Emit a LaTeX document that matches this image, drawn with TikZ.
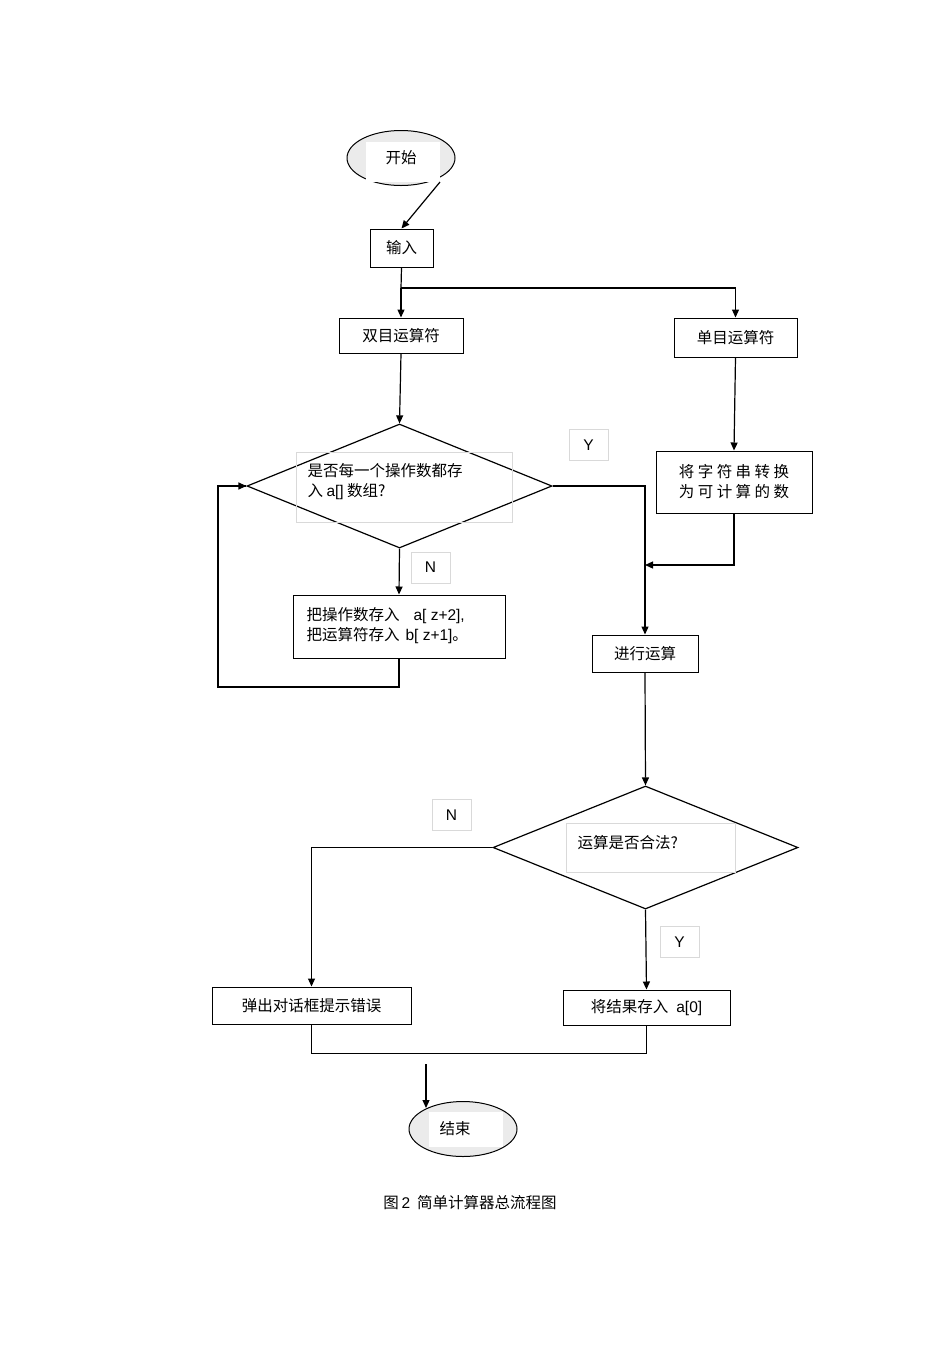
\documentclass[tikz,border=0pt]{standalone}
\usepackage{fontspec}
\setmainfont{Liberation Sans}
\newfontfamily\cjk{Noto Sans CJK SC}
\usetikzlibrary{shapes.geometric,arrows.meta}
\begin{document}
\begin{tikzpicture}[x=1pt,y=-1pt,
  every node/.style={font=\cjk\fontsize{15.5}{20}\selectfont},
  box/.style={draw,line width=1pt,rectangle,inner sep=0pt},
  lab/.style={draw=black!15,rectangle,inner sep=0pt,minimum width=39pt,minimum height=31pt,font=\fontsize{15.5}{18}\selectfont},
  line/.style={line width=1.2pt},
  arr/.style={line width=1.2pt,-{Triangle[length=8pt,width=7pt]}},
  term/.style={draw,ellipse,line width=1pt,fill=black!8,minimum width=108pt,minimum height=55pt,inner sep=0pt}]
\useasboundingbox (0,0) rectangle (950,1345);
% start
\node[term] (start) at (401,158) {};
\fill[white] (366,142) rectangle (440,182);
\node at (401,158) {开始};
\coordinate (s1) at (440,182);
\node[box,minimum width=63pt,minimum height=38pt] (in) at (401.5,248) {输入};
\draw[arr] (s1) -- (in.north);
\node[box,minimum width=124pt,minimum height=35pt] (sh) at (401,335.5) {双目运算符};
\node[box,minimum width=123pt,minimum height=39pt] (dan) at (735.5,337.5) {单目运算符};
\coordinate (br) at (401,288);
\draw[line] (in.south) -- (br);
\draw[arr] (br) -- (sh.north);
\draw[arr] (br) -| (dan.north);
\node[box,minimum width=156pt,minimum height=62pt,align=center] (conv) at (734,482) {将 字 符 串 转 换\\为 可 计 算 的 数};
\draw[arr] (dan.south) -- (conv.north);
% diamond 1
\node[draw,diamond,line width=1.2pt,minimum width=305pt,minimum height=124pt,aspect=2.46,inner sep=0pt] (d1) at (399.5,486) {};
\draw[black!15] (296,452) rectangle (512,522);
\node[anchor=west,align=left] (d1t) at (304,482) {是否每一个操作数都存\\入 {\rmfamily a[]} 数组?};
\draw[arr] (sh.south) -- (d1.north);
\node[lab] (y1) at (588.5,445) {Y};
\node[lab] (n1) at (430.5,567.5) {N};
\node[box,minimum width=212pt,minimum height=63pt] (save) at (399,626.5) {};
\node[anchor=west,align=left] at (303,626) {把操作数存入\hspace{14pt}{\rmfamily a[ z+2],}\\把运算符存入\hspace{6pt}{\rmfamily b[ z+1]}。};
\draw[arr] (d1.south) -- (save.north);
\coordinate (l1) at (218,687);
\draw[line] (save.south) |- (l1) |- (d1.west);
\draw[arr] (230,486) -- (d1.west);
\node[box,minimum width=106pt,minimum height=37pt] (calc) at (645,653.5) {进行运算};
\draw[arr] (d1.east) -| (calc.north);
\coordinate (m) at (645,565);
\draw[arr] (conv.south) |- (m);
% diamond 2
\node[draw,diamond,line width=1.2pt,minimum width=305pt,minimum height=123pt,aspect=2.48,inner sep=0pt] (d2) at (645.5,847.5) {};
\draw[black!15] (566,823) rectangle (735,872);
\node[anchor=west] at (574,843) {运算是否合法?};
\draw[arr] (calc.south) -- (d2.north);
\node[lab] (n2) at (451.5,815) {N};
\node[lab] (y2) at (679.5,942) {Y};
\node[box,minimum width=199pt,minimum height=37pt] (err) at (311.5,1005.5) {弹出对话框提示错误};
\node[box,minimum width=167pt,minimum height=35pt] (res) at (646.5,1007.5) {将结果存入\hspace{8pt}{\rmfamily a[0]}};
\draw[arr] (d2.west) -| (err.north);
\draw[arr] (d2.south) -- (res.north);
\coordinate (j) at (312,1053);
\draw[line width=0.6pt] (err.south) |- (res.south |- j) -- (res.south);
% end
\node[term] (end) at (463,1129) {};
\fill[white] (429,1112) rectangle (503,1147);
\node at (455,1129) {结束};
\coordinate (e0) at (426,1064);
\draw[arr] (e0) -- (426,1108);
\node (cap) at (470,1203) {图{\rmfamily\,2}\ \ 简单计算器总流程图};
\end{tikzpicture}
\end{document}
